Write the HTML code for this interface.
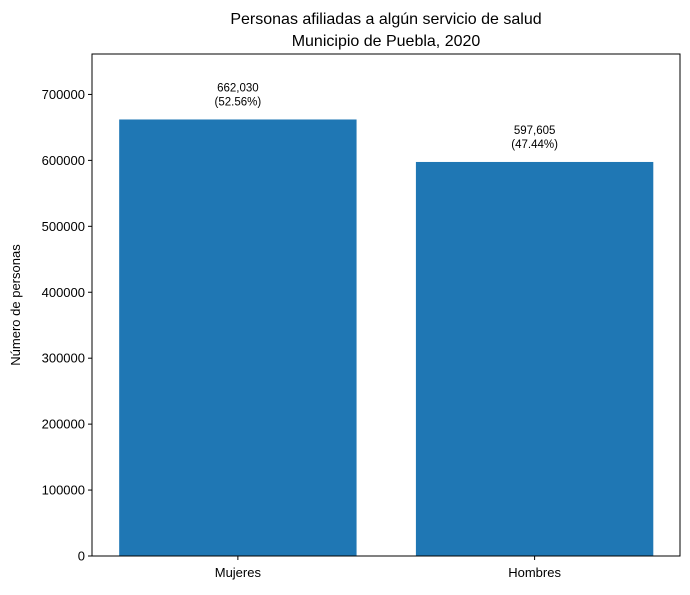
<!DOCTYPE html>
<html><head><meta charset="utf-8"><style>
body{margin:0;background:#fff;}
svg text{font-family:"Liberation Sans","DejaVu Sans",sans-serif;fill:#000;}
</style></head><body>
<svg id="chart" width="690" height="590" xmlns="http://www.w3.org/2000/svg">
<rect width="690" height="590" fill="#fff"/>
<text x="386" y="24" text-anchor="middle" font-size="16">Personas afiliadas a algún servicio de salud</text>
<text x="386" y="46" text-anchor="middle" font-size="16">Municipio de Puebla, 2020</text>
<text transform="translate(20,305) rotate(-90)" text-anchor="middle" font-size="13">Número de personas</text>
<g id="marks"></g>
<rect x="92" y="54" width="588" height="502" fill="none" stroke="#000" stroke-width="1"/>
</svg>
<script>
const categories = ["Mujeres", "Hombres"];
const values = [662030, 597605];
const valueLabels = ["662,030", "597,605"];
const pctLabels = ["(52.56%)", "(47.44%)"];
const yTicks = [0, 100000, 200000, 300000, 400000, 500000, 600000, 700000];

const L=92,R=680,T=54,B=556;
const yMax = Math.max(...values)*1.15;
const xMin=-0.4916, xMax=1.49;
const y = v => B - v/yMax*(B-T);
const x = i => L + (i-xMin)/(xMax-xMin)*(R-L);
const unit = (R-L)/(xMax-xMin);
const ns="http://www.w3.org/2000/svg";
const g=document.getElementById('marks');
function mk(tag,attrs,parent){const e=document.createElementNS(ns,tag);for(const k in attrs)e.setAttribute(k,attrs[k]);(parent||g).appendChild(e);return e;}

yTicks.forEach(t=>{
  const yy=y(t);
  const ln=mk('line',{x1:L-4,x2:L,y1:yy,y2:yy,stroke:'#000'});
  
  
  const tx=mk('text',{x:L-7,y:yy+4.5,'text-anchor':'end','font-size':13});
  tx.textContent=t;
  
  
});

categories.forEach((c,i)=>{
  const cx=x(i), w=0.8*unit;
  const b=mk('rect',{x:cx-w/2,y:y(values[i]),width:w,height:B-y(values[i]),fill:'#1f77b4'});
  
  
  const tk=mk('line',{x1:cx,x2:cx,y1:B,y2:B+4,stroke:'#000'});
  
  
  const lb=mk('text',{x:cx,y:B+21,'text-anchor':'middle','font-size':13});
  lb.textContent=c;
  
  
  const v1=mk('text',{x:cx,y:y(values[i])-28,'text-anchor':'middle','font-size':11.5});
  v1.textContent=valueLabels[i];
  
  
  const v2=mk('text',{x:cx,y:y(values[i])-14,'text-anchor':'middle','font-size':11.5});
  v2.textContent=pctLabels[i];
  
  
});
</script>
</body></html>
